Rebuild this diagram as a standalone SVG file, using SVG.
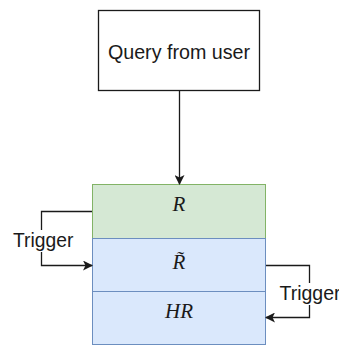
<svg xmlns="http://www.w3.org/2000/svg" width="339" height="345" viewBox="0 0 339 345">
  <style>
    .lbl { font-family: "Liberation Sans", Arial, sans-serif; fill: #1a1a1a; }
    .math { font-family: "Liberation Serif", "Times New Roman", serif; font-style: italic; fill: #1a1a1a; font-size: 21px; text-anchor: middle; }
    .edge { fill: none; stroke: #1a1a1a; stroke-width: 1.3; }
  </style>
  <defs>
    <marker id="arrow" viewBox="0 0 10 10" refX="9" refY="5" markerWidth="10" markerHeight="10" markerUnits="userSpaceOnUse" orient="auto">
      <path d="M0,0 L10,5 L0,10 L2.5,5 Z" fill="#1a1a1a"/>
    </marker>
  </defs>

  <rect width="339" height="345" fill="#ffffff"/>

  <g id="query">
    <rect x="98.5" y="10.5" width="161" height="80" fill="#ffffff" stroke="#1a1a1a" stroke-width="1.3"/>
    <text class="lbl" x="179" y="59" font-size="19.7" text-anchor="middle">Query from user</text>
  </g>

  <g id="r">
    <rect x="92.5" y="184.5" width="173" height="54" fill="#d5e8d4" stroke="#82b366" stroke-width="1"/>
    <text class="math" x="179" y="211">R</text>
  </g>

  <g id="r-tilde">
    <rect x="92.5" y="238.5" width="173" height="53" fill="#dae8fc" stroke="#6c8ebf" stroke-width="1"/>
    <text class="math" x="179" y="269">R̃</text>
  </g>

  <g id="hr">
    <rect x="92.5" y="291.5" width="173" height="53" fill="#dae8fc" stroke="#6c8ebf" stroke-width="1"/>
    <text class="math" x="179" y="318">HR</text>
  </g>

  <g id="connectors">
    <path class="edge" d="M179.5,91 L179.5,184" marker-end="url(#arrow)"/>
    <path class="edge" d="M92,211.5 L41.5,211.5 L41.5,265.5 L92,265.5" marker-end="url(#arrow)"/>
    <path class="edge" d="M266,265.5 L309.5,265.5 L309.5,317.5 L266,317.5" marker-end="url(#arrow)"/>
    <rect x="12" y="230" width="62" height="22" fill="#ffffff"/>
    <text class="lbl" x="13" y="247" font-size="19.3">Trigger</text>
    <rect x="278" y="283" width="61" height="22" fill="#ffffff"/>
    <text class="lbl" x="279.5" y="299.5" font-size="19.5">Trigger</text>
  </g>
</svg>
